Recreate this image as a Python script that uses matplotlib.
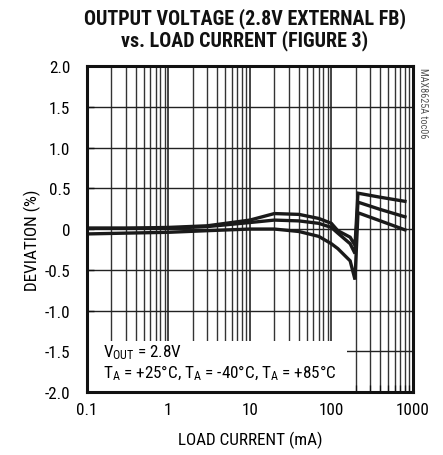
import os
import numpy as np
import matplotlib
matplotlib.use("Agg")
import matplotlib.pyplot as plt
from matplotlib import font_manager
from matplotlib.patches import Rectangle

# load current (mA) and deviation (%) for the three temperatures
load_ma = [0.1, 0.3, 1, 3, 10, 20, 40, 70, 100, 120, 170, 195, 212, 400, 800]
dev_top = [0.01, 0.01, 0.02, 0.04, 0.11, 0.19, 0.18, 0.13, 0.07, -0.02, -0.10, -0.20, 0.44, 0.39, 0.34]
dev_mid = [0.01, 0.01, 0.01, 0.03, 0.08, 0.11, 0.10, 0.07, 0.02, -0.05, -0.18, -0.30, 0.33, 0.24, 0.15]
dev_bot = [-0.06, -0.05, -0.04, -0.02, 0.0, 0.0, -0.03, -0.09, -0.18, -0.24, -0.39, -0.62, 0.20, 0.10, -0.01]

x_ticks = [0.1, 1, 10, 100, 1000]
x_tick_labels = ["0.1", "1", "10", "100", "1000"]
y_ticks = [-2.0, -1.5, -1.0, -0.5, 0, 0.5, 1.0, 1.5, 2.0]
y_tick_labels = ["-2.0", "-1.5", "-1.0", "-0.5", "0", "0.5", "1.0", "1.5", "2.0"]


def pick_narrow_font():
    """Find a condensed sans font, fall back to Liberation Sans."""
    candidates = [("Liberation Sans Narrow", "normal"), ("Roboto Condensed", "normal"),
                  ("Open Sans Condensed", "normal"), ("Noto Sans Condensed", "normal"),
                  ("Noto Sans", "condensed"), ("DejaVu Sans", "condensed"),
                  ("Roboto", "condensed"), ("Open Sans", "condensed")]
    for fam, stretch in candidates:
        try:
            path = font_manager.findfont(font_manager.FontProperties(family=fam, stretch=stretch),
                                         fallback_to_default=False)
        except Exception:
            continue
        name = os.path.basename(path).lower()
        if "cond" in name or "narrow" in name:
            return fam, stretch
    return "Liberation Sans", "normal"


font_fam, font_stretch = pick_narrow_font()
plt.rcParams["font.family"] = [font_fam, "DejaVu Sans"]
plt.rcParams["font.stretch"] = font_stretch
plt.rcParams["mathtext.fontset"] = "custom"
plt.rcParams["mathtext.rm"] = font_fam + ":stretch=" + font_stretch
plt.rcParams["mathtext.default"] = "rm"
narrow = font_stretch == "condensed" or font_fam != "Liberation Sans"
fs = 12.3 if narrow else 10

fig = plt.figure(figsize=(4.43, 4.56), dpi=100)
ax = fig.add_axes([0.196, 0.138, 0.736, 0.715])
ax.set_xscale("log")
ax.set_xlim(0.1, 1000)
ax.set_ylim(-2.0, 2.0)

# grid drawn by hand so the label box can cover it but not the ticks
for d in range(-1, 3):
    for m in range(1, 10):
        v = m * 10.0 ** d
        if m == 1:
            ax.axvline(v, color="#111111", lw=1.1, zorder=1)
        else:
            ax.axvline(v, color="#333333", lw=1.0, zorder=1)
for v in y_ticks:
    ax.axhline(v, color="#222222", lw=1.0, zorder=1)

ax.add_patch(Rectangle((0, 0), 0.797, 0.156, transform=ax.transAxes,
                       facecolor="white", edgecolor="none", zorder=2))

for dev in [dev_top, dev_mid, dev_bot]:
    ax.plot(load_ma, dev, color="#1a1a1a", lw=2.4, zorder=3,
            solid_joinstyle="miter")

ax.set_xticks(x_ticks)
ax.set_xticklabels(x_tick_labels)
ax.set_yticks(y_ticks)
ax.set_yticklabels(y_tick_labels)
ax.tick_params(axis="both", which="both", direction="in", labelsize=fs,
               color="#111111")
ax.tick_params(axis="x", which="major", length=5, width=1, pad=7)
ax.tick_params(axis="x", which="minor", length=5, width=0.9)
ax.tick_params(axis="y", which="major", length=5, width=1, pad=12)
ax.xaxis.set_minor_formatter(plt.NullFormatter())

for s in ax.spines.values():
    s.set_linewidth(2.2)
    s.set_color("#111111")
    s.set_zorder(4)

ax.set_xlabel("LOAD CURRENT (mA)", fontsize=fs)
ax.xaxis.set_label_coords(0.5, -0.12)
ax.set_ylabel("DEVIATION (%)", fontsize=fs)
ax.yaxis.set_label_coords(-0.14, 0.47)

ax.text(0.049, 0.123, "V$_{\\rm OUT}$ = 2.8V", transform=ax.transAxes,
        fontsize=fs, va="center", ha="left", zorder=5)
ax.text(0.049, 0.061, "T$_{\\rm A}$ = +25°C, T$_{\\rm A}$ = -40°C, T$_{\\rm A}$ = +85°C",
        transform=ax.transAxes, fontsize=fs, va="center", ha="left", zorder=5)

fig.text(0.553, 0.982, "OUTPUT VOLTAGE (2.8V EXTERNAL FB)\nvs. LOAD CURRENT (FIGURE 3)",
         ha="center", va="top", fontsize=14.4 if narrow else 11.5, fontweight="bold",
         linespacing=1.1, color="#111111")

fig.text(0.955, 0.851, "MAX8625A toc06", rotation=-90, ha="center", va="top",
         fontsize=7.3, color="#555555")

fig.savefig("out.png", dpi=100)
